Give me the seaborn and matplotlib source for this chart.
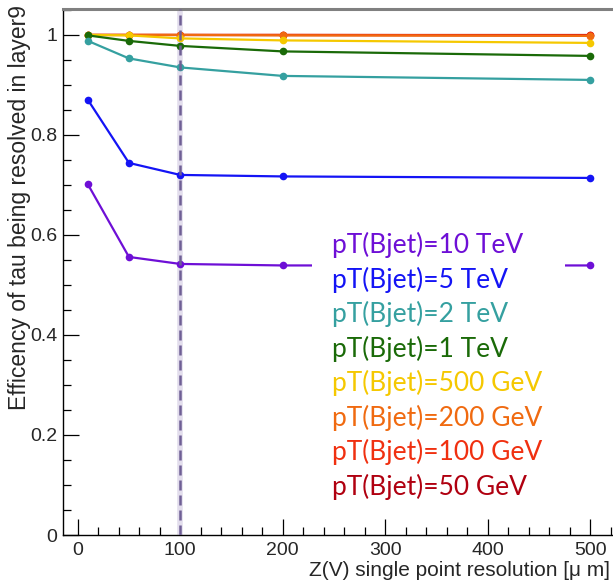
import numpy as np
import pandas as pd
import seaborn as sns
import matplotlib
matplotlib.use("Agg")
import matplotlib.pyplot as plt
from matplotlib.lines import Line2D
from matplotlib.patches import Rectangle
from matplotlib.ticker import MultipleLocator

# ---- data ----
resolution = [10, 50, 100, 200, 500]
labels = ["pT(Bjet)=10 TeV", "pT(Bjet)=5 TeV", "pT(Bjet)=2 TeV", "pT(Bjet)=1 TeV",
          "pT(Bjet)=500 GeV", "pT(Bjet)=200 GeV", "pT(Bjet)=100 GeV", "pT(Bjet)=50 GeV"]
eff_10TeV = [0.701, 0.556, 0.542, 0.539, 0.539]
eff_5TeV = [0.870, 0.744, 0.720, 0.717, 0.714]
eff_2TeV = [0.988, 0.953, 0.935, 0.918, 0.910]
eff_1TeV = [0.999, 0.988, 0.978, 0.967, 0.958]
eff_500GeV = [1.000, 0.999, 0.993, 0.989, 0.984]
eff_200GeV = [1.000, 1.000, 1.000, 0.999, 0.998]
eff_100GeV = [1.000, 1.000, 1.000, 1.000, 0.999]
eff_50GeV = [1.000, 1.000, 1.000, 1.000, 1.000]
colors = ["#6e0fd6", "#1414f5", "#35a0a0", "#1a6a08",
          "#f5c800", "#f06a10", "#f03010", "#b00010"]
cut_line = 100

series = [eff_10TeV, eff_5TeV, eff_2TeV, eff_1TeV, eff_500GeV, eff_200GeV, eff_100GeV, eff_50GeV]
rows = []
for lab, vals in zip(labels, series):
    for r, v in zip(resolution, vals):
        rows.append({"res": r, "eff": v, "pt": lab})
df = pd.DataFrame(rows)
palette = dict(zip(labels, colors))

sns.set_style("ticks")
plt.rcParams['font.family'] = ['Liberation Sans', 'DejaVu Sans']

W, H = 613, 581
fig = plt.figure(figsize=(W / 100, H / 100), dpi=100)
left, right, bottom, top = 62.7, 613, 535, 9
ax = fig.add_axes([left / W, 1 - bottom / H, (right - left) / W, (bottom - top) / H])

# vertical marker line (halo + dashed)
ax.axvline(cut_line, color="#e2ddec", lw=4, zorder=1)
ax.axvline(cut_line, color="#6f5f95", lw=1.8, ls=(0, (4, 2)), zorder=5)

order = labels[::-1]
sns.lineplot(data=df, x="res", y="eff", hue="pt", hue_order=order, palette=palette,
             marker="o", markersize=5.5, markeredgewidth=0, linewidth=1.6,
             legend=False, ax=ax, zorder=3)

ax.set_xlim(-14.6, 522)
ax.set_ylim(0, 1.0518)

ax.xaxis.set_major_locator(MultipleLocator(100))
ax.xaxis.set_minor_locator(MultipleLocator(20))
ax.yaxis.set_major_locator(MultipleLocator(0.2))
ax.yaxis.set_minor_locator(MultipleLocator(0.05))
ax.set_yticks([0, 0.2, 0.4, 0.6, 0.8, 1.0])
ax.set_yticklabels(["0", "0.2", "0.4", "0.6", "0.8", "1"])
ax.tick_params(which="major", direction="in", length=11.5, width=0.9, color="black",
               labelsize=14, pad=4, bottom=True, left=True, top=False, right=False)
ax.tick_params(which="minor", direction="in", length=6, width=0.9, color="black",
               bottom=True, left=True, top=False, right=False)
ax.tick_params(axis="x", pad=5)

for s in ["left", "bottom"]:
    ax.spines[s].set_color("black")
    ax.spines[s].set_linewidth(1.0)
ax.spines["right"].set_visible(False)
ax.spines["top"].set_visible(True)
ax.spines["top"].set_color("#808080")
ax.spines["top"].set_linewidth(2.2)

ax.set_xlabel("")
ax.set_ylabel("")
fig.text(610 / W, 1 - 570 / H, "Z(V) single point resolution [μ m]", ha="right", va="center",
         fontsize=15)
fig.text(20 / W, 1 - 5 / H, "Efficency of tau being resolved in layer9", rotation=90,
         ha="center", va="top", fontsize=16.5)

# white legend box covering the lines
box = Rectangle((312 / W, 1 - 500 / H), (565 - 312) / W, (500 - 224) / H,
                transform=fig.transFigure, facecolor="white", edgecolor="none", zorder=4)
ax.add_patch(box)

handles = [Line2D([], [], color=c, lw=0) for c in colors]
leg = ax.legend(handles, labels, handlelength=0, handletextpad=0, labelcolor=colors,
                frameon=False,
                loc="upper left", bbox_to_anchor=(311 / W, 1 - 211 / H),
                bbox_transform=fig.transFigure, borderpad=0.3, labelspacing=0.317,
                prop={"family": "Lato", "size": 19})
leg.set_zorder(10)

fig.savefig("out.png", dpi=100)
